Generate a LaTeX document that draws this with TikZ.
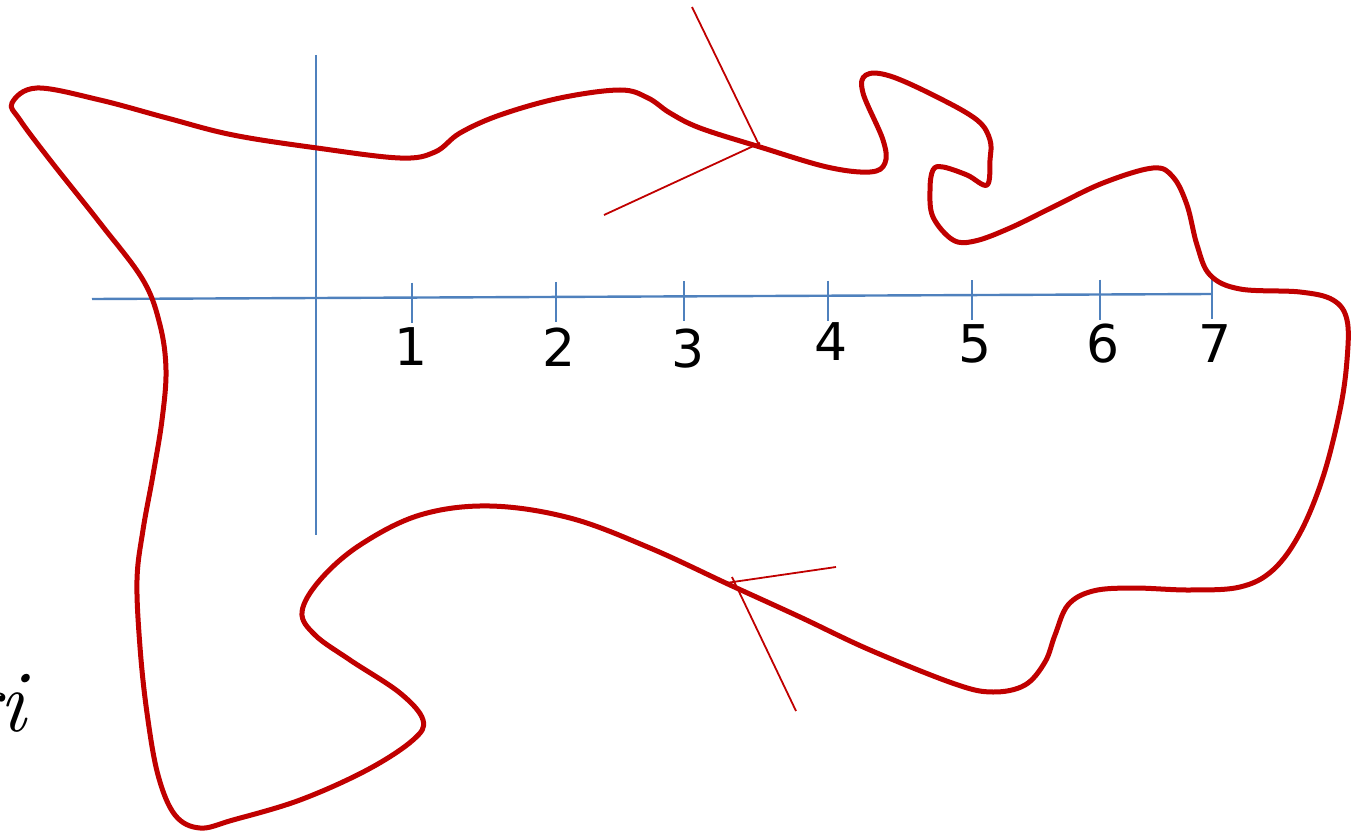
\documentclass[tikz,border=0pt]{standalone}
\usepackage{fontspec}
\newfontfamily\digitfont{DejaVu Sans}
\definecolor{axisblue}{RGB}{79,129,189}
\definecolor{curvered}{RGB}{192,0,0}
\begin{document}
\begin{tikzpicture}[x=1pt, y=-1pt,
        axis/.style={axisblue, line width=2.4pt},
        boundary/.style={curvered, line width=5pt, line join=round},
        guide/.style={curvered, line width=1.8pt},
        ticklabel/.style={font=\digitfont\fontsize{52}{60}\selectfont, inner sep=0pt}]
        \useasboundingbox (0,0) rectangle (1352,832);

        % Axes
        \coordinate (xstart) at (92,299);
        \coordinate (xend) at (1212,294);
        \coordinate (ytop) at (316,55);
        \coordinate (ybot) at (316,535);
        \draw[axis] (xstart) -- (xend);
        \draw[axis] (ytop) -- (ybot);

        % Ticks and labels
        \foreach \n/\tx/\ty/\lx/\ly in {1/412/297.6/411/347, 2/556/296.9/559/347, 3/684/296.4/688/349,
                4/828/295.7/831/342, 5/972/295.1/975/344, 6/1100/294.5/1103/344, 7/1212/294/1215/344}{
            \draw[axis] (\tx,\ty-15) -- (\tx,\ty+25);
            \node[ticklabel] (l\n) at (\lx,\ly) {\n};
        }

        % Boundary
        \draw[boundary] plot [smooth cycle, tension=0.6] coordinates {
            (37,88) (100,100) (167,118) (233,135) (317,148) (400,158) (435,152) (460,133)
            (500,115) (560,98) (620,90) (648,98) (670,113) (700,128) (760,147) (827,167)
            (870,172) (885,163) (883,140) (863,93) (866,75) (890,76) (937,97) (977,120)
            (990,140) (990,160) (987,185) (967,175) (943,167) (933,170) (930,190) (933,217)
            (953,240) (975,241) (1010,228) (1053,207) (1103,183) (1153,168) (1173,177) (1187,205)
            (1197,245) (1210,275) (1240,289) (1300,292) (1333,300) (1347,320) (1347,360)
            (1340,410) (1323,477) (1300,533) (1273,570) (1240,587) (1190,590) (1133,588) (1093,591)
            (1068,605) (1055,635) (1045,662) (1025,685) (993,692) (955,684) (870,650) (800,617)
            (730,585) (650,548) (570,518) (490,506) (420,515) (360,545) (320,580)
            (302,612) (315,635) (350,660) (400,693) (423,720) (413,740) (367,770) (300,800)
            (233,820) (200,828) (175,815) (158,775) (147,713) (140,647) (137,580) (143,530)
            (153,475) (162,420) (166,370) (160,325) (143,280) (100,223) (50,160) (20,120) (12,103)
        };

        % Normal and tangent at top
        \coordinate (ptop) at (760,147);
        \coordinate (ntop) at (692,7);
        \coordinate (ttop) at (604,215);
        \draw[guide] (ptop) -- (ntop);
        \draw[guide] ([yshift=4pt]ptop) -- (ttop);

        % Normal and tangent at bottom
        \coordinate (pbot) at (726,583);
        \coordinate (tbot) at (836,567);
        \coordinate (nbot) at (796,711);
        \draw[guide] (pbot) -- (tbot);
        \draw[guide] ([xshift=6pt,yshift=6pt]pbot) -- (nbot);

        % Label
        \node[anchor=base east, inner sep=0pt, font=\itshape\fontsize{88}{90}\selectfont] (ri) at (26,731) {ri};
    \end{tikzpicture}
\end{document}
